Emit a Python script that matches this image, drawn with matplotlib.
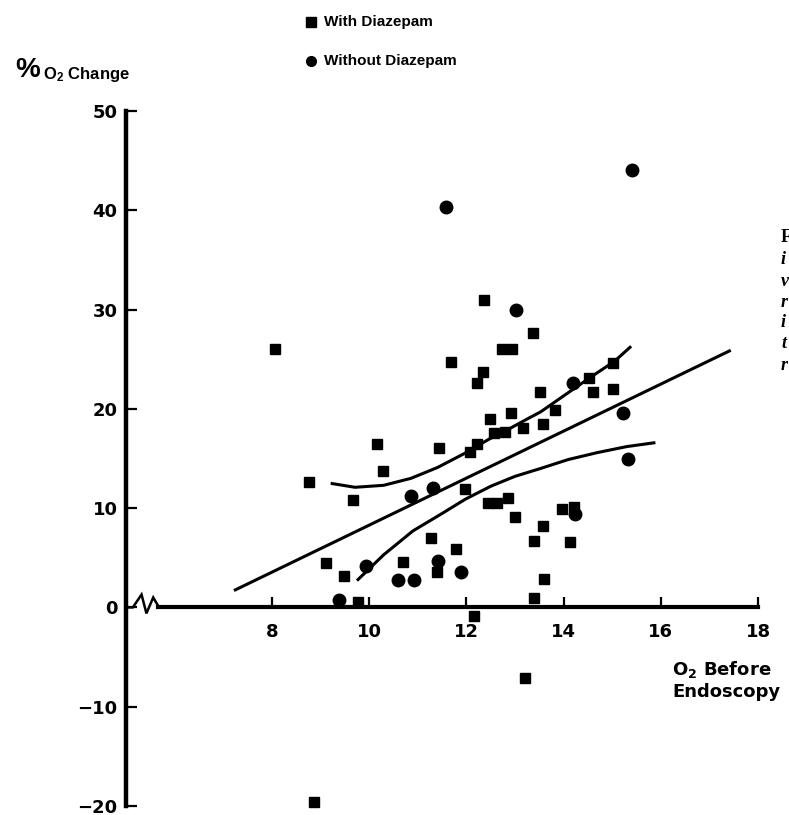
import numpy as np
import matplotlib
matplotlib.use('Agg')
import matplotlib.pyplot as plt
from matplotlib.lines import Line2D

plt.rcParams['font.family'] = ['DejaVu Sans']
plt.rcParams['font.weight'] = 'bold'
NARROW = ['Liberation Sans Narrow', 'Liberation Sans', 'DejaVu Sans']
SERIF = ['Liberation Serif', 'DejaVu Serif']

# with diazepam (squares)
with_x = [8.06, 12.37, 13.38, 12.73, 12.95, 11.68, 12.34, 12.21, 13.51, 12.91,
          12.49, 13.58, 12.57, 12.79, 13.16, 10.16, 11.43, 12.22, 12.07, 10.28,
          8.76, 11.98, 9.67, 12.44, 12.64, 12.85, 13.01, 13.58, 13.39, 11.28,
          11.79, 9.12, 10.70, 11.40, 9.49, 13.59, 9.78, 13.40, 12.16, 14.53,
          15.02, 14.60, 15.01, 13.83, 13.96, 14.21, 14.14, 13.20, 8.86]
with_y = [26.0, 31.0, 27.6, 26.0, 26.0, 24.7, 23.7, 22.6, 21.7, 19.6,
          19.0, 18.5, 17.6, 17.7, 18.1, 16.5, 16.1, 16.5, 15.7, 13.7,
          12.6, 11.9, 10.8, 10.5, 10.5, 11.0, 9.1, 8.2, 6.7, 7.0,
          5.9, 4.5, 4.6, 3.6, 3.2, 2.9, 0.5, 1.0, -0.9, 23.1,
          24.6, 21.7, 22.0, 19.9, 9.9, 10.1, 6.6, -7.1, -19.6]

# without diazepam (circles)
without_x = [15.41, 11.59, 13.03, 14.20, 15.22, 15.32, 10.87, 11.31, 9.94, 11.41,
             11.89, 10.59, 10.92, 9.38, 14.23]
without_y = [44.1, 40.3, 30.0, 22.6, 19.6, 15.0, 11.2, 12.0, 4.2, 4.7,
             3.6, 2.8, 2.8, 0.7, 9.4]

# regression line and confidence band
fit_x = [7.22, 17.44]
fit_y = [1.7, 25.9]
upper_x = [9.21, 9.71, 10.3, 10.86, 11.41, 11.96, 12.45, 12.85, 13.26, 13.53,
           14.0, 14.53, 15.05, 15.39]
upper_y = [12.5, 12.1, 12.3, 13.0, 14.1, 15.5, 16.9, 17.9, 19.0, 19.7,
           21.3, 23.1, 24.8, 26.3]
lower_x = [9.75, 10.3, 10.9, 11.48, 11.98, 12.5, 13.0, 13.53, 14.1, 14.7,
           15.3, 15.89]
lower_y = [2.7, 5.3, 7.7, 9.4, 10.9, 12.2, 13.2, 14.0, 14.9, 15.6,
           16.2, 16.6]

x_ticks = [8, 10, 12, 14, 16, 18]
y_ticks = [-20, -10, 0, 10, 20, 30, 40, 50]

W, H = 789, 815
fig = plt.figure(figsize=(W / 100, H / 100), dpi=100)
ax = fig.add_axes([126 / W, (H - 806) / H, (758 - 126) / W, (806 - 111) / H])
ax.set_xlim(5, 18)
ax.set_ylim(-20, 50)

ax.plot(fit_x, fit_y, color='k', lw=2.2, solid_capstyle='butt')
ax.plot(upper_x, upper_y, color='k', lw=2.2, solid_capstyle='butt')
ax.plot(lower_x, lower_y, color='k', lw=2.2, solid_capstyle='butt')
ax.plot(with_x, with_y, 's', color='k', ms=7, clip_on=False)
ax.plot(without_x, without_y, 'o', color='k', ms=9, clip_on=False)

# axes
for s in ['top', 'right']:
    ax.spines[s].set_visible(False)
ax.spines['left'].set_linewidth(3.2)
ax.spines['bottom'].set_position(('data', 0))
ax.spines['bottom'].set_bounds(5.66, 18)
ax.spines['bottom'].set_linewidth(3.0)
ax.set_xticks(x_ticks)
ax.set_yticks(y_ticks)
ax.set_yticklabels([str(v) if v >= 0 else '\u2212' + str(-v) for v in y_ticks])
ax.tick_params(axis='both', direction='in', length=7, width=1.6, labelsize=13)
ax.tick_params(axis='x', pad=11)
ax.tick_params(axis='y', pad=6, length=8)
# axis break
ax.plot([5.0, 5.14, 5.32, 5.42, 5.56, 5.68], [0, 0, 1.3, -0.6, 1.0, 0],
        color='k', lw=1.8, clip_on=False, solid_joinstyle='miter')

# axis titles
fig.text(15 / W, 1 - 70 / H, '%', fontsize=20, family=NARROW, ha='left', va='center')
fig.text(43 / W, 1 - 74 / H, r'$\mathregular{O_2}$ Change', fontsize=12,
         family=NARROW, ha='left', va='center')
fig.text(672 / W, 1 - 670 / H, r'$\mathregular{O_2}$ Before', fontsize=13,
         ha='left', va='center')
fig.text(672 / W, 1 - 692 / H, 'Endoscopy', fontsize=13, ha='left', va='center')

# legend
fig.add_artist(Line2D([311 / W], [1 - 22 / H], marker='s', ms=6.5, color='k',
                      transform=fig.transFigure))
fig.add_artist(Line2D([311 / W], [1 - 61 / H], marker='o', ms=7, color='k',
                      transform=fig.transFigure))
fig.text(324 / W, 1 - 22 / H, 'With Diazepam', fontsize=11, family=NARROW,
         ha='left', va='center')
fig.text(324 / W, 1 - 61 / H, 'Without Diazepam', fontsize=11, family=NARROW,
         ha='left', va='center')

# clipped caption at the right edge
fig.text(781 / W, 1 - 238 / H, 'F', fontsize=13, family=SERIF, ha='left', va='center')
for ch, yy in zip(['i', 'v', 'r', 'i', 't', 'r'], [260, 281, 302, 323, 344, 365]):
    fig.text(781 / W, 1 - yy / H, ch, fontsize=13, family=SERIF, style='italic',
             ha='left', va='center')

fig.savefig('out.png', dpi=100)
